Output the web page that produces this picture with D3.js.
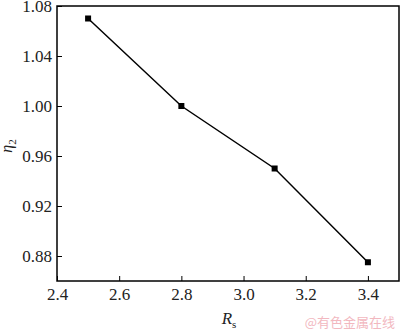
<!DOCTYPE html>
<html>
<head>
<meta charset="utf-8">
<script src="https://cdn.jsdelivr.net/npm/d3@7"></script>
<style>
  body { margin: 0; background: #fff; }
  svg text { font-family: "Liberation Serif", "Times New Roman", serif; }
</style>
</head>
<body>
<svg id="chart"></svg>
<script>
const rsValues = [2.5, 2.8, 3.1, 3.4];
const etaValues = [1.07, 1.00, 0.95, 0.875];
const xTicks = [2.4, 2.6, 2.8, 3.0, 3.2, 3.4];
const yTicks = [0.88, 0.92, 0.96, 1.00, 1.04, 1.08];

const width = 400, height = 332;
const margin = { top: 6, right: 1, bottom: 51, left: 57 };

const svg = d3.select("#chart")
  .attr("width", width)
  .attr("height", height);

const x = d3.scaleLinear().domain([2.4, 3.5]).range([margin.left, width - margin.right]);
const y = d3.scaleLinear().domain([0.86, 1.08]).range([height - margin.bottom, margin.top]);

// frame
svg.append("rect")
  .attr("x", x(2.4)).attr("y", y(1.08))
  .attr("width", x(3.5) - x(2.4))
  .attr("height", y(0.86) - y(1.08))
  .attr("fill", "none")
  .attr("stroke", "#000")
  .attr("stroke-width", 1.5);

// axes, ticks pointing inward
const xAxis = svg.append("g")
  .attr("transform", `translate(0,${y(0.86)})`)
  .call(d3.axisBottom(x).tickValues(xTicks).tickFormat(d3.format(".1f")).tickSizeInner(-5).tickSizeOuter(0).tickPadding(7));
const yAxis = svg.append("g")
  .attr("transform", `translate(${x(2.4)},0)`)
  .call(d3.axisLeft(y).tickValues(yTicks).tickFormat(d3.format(".2f")).tickSizeInner(-5).tickSizeOuter(0).tickPadding(5));

[xAxis, yAxis].forEach(g => {
  g.attr("font-size", 17);
  g.select(".domain").remove();
  g.selectAll(".tick line").attr("stroke", "#000").attr("stroke-width", 1);
  g.selectAll(".tick text")
    .attr("fill", "#222")
    .style("font-family", "'Liberation Serif', serif");
});

// line
const line = d3.line().x((d, i) => x(rsValues[i])).y(d => y(d));
svg.append("path")
  .datum(etaValues)
  .attr("d", line)
  .attr("fill", "none")
  .attr("stroke", "#000")
  .attr("stroke-width", 1.5);

// markers
svg.append("g")
  .selectAll("rect")
  .data(etaValues)
  .join("rect")
  .attr("x", (d, i) => x(rsValues[i]) - 3)
  .attr("y", d => y(d) - 3)
  .attr("width", 6)
  .attr("height", 6)
  .attr("fill", "#000");

// axis titles
const yl = svg.append("text")
  .attr("transform", "translate(12,146) rotate(-90)")
  .attr("text-anchor", "middle")
  .attr("font-size", 16)
  .attr("fill", "#222");
yl.append("tspan").attr("font-style", "italic").text("η");
yl.append("tspan").attr("dy", 4).attr("font-size", 11).text("2");

const xl = svg.append("text")
  .attr("x", 229)
  .attr("y", 324)
  .attr("text-anchor", "middle")
  .attr("font-size", 17)
  .attr("fill", "#222");
xl.append("tspan").attr("font-style", "italic").text("R");
xl.append("tspan").attr("dy", 4).attr("font-size", 11).text("s");

// watermark
svg.append("text")
  .attr("x", 395)
  .attr("y", 327)
  .attr("text-anchor", "end")
  .style("font-family", "'Noto Sans CJK SC', sans-serif")
  .attr("font-size", 13)
  .attr("fill", "#f2b8bf")
  .text("@有色金属在线");
</script>
</body>
</html>
